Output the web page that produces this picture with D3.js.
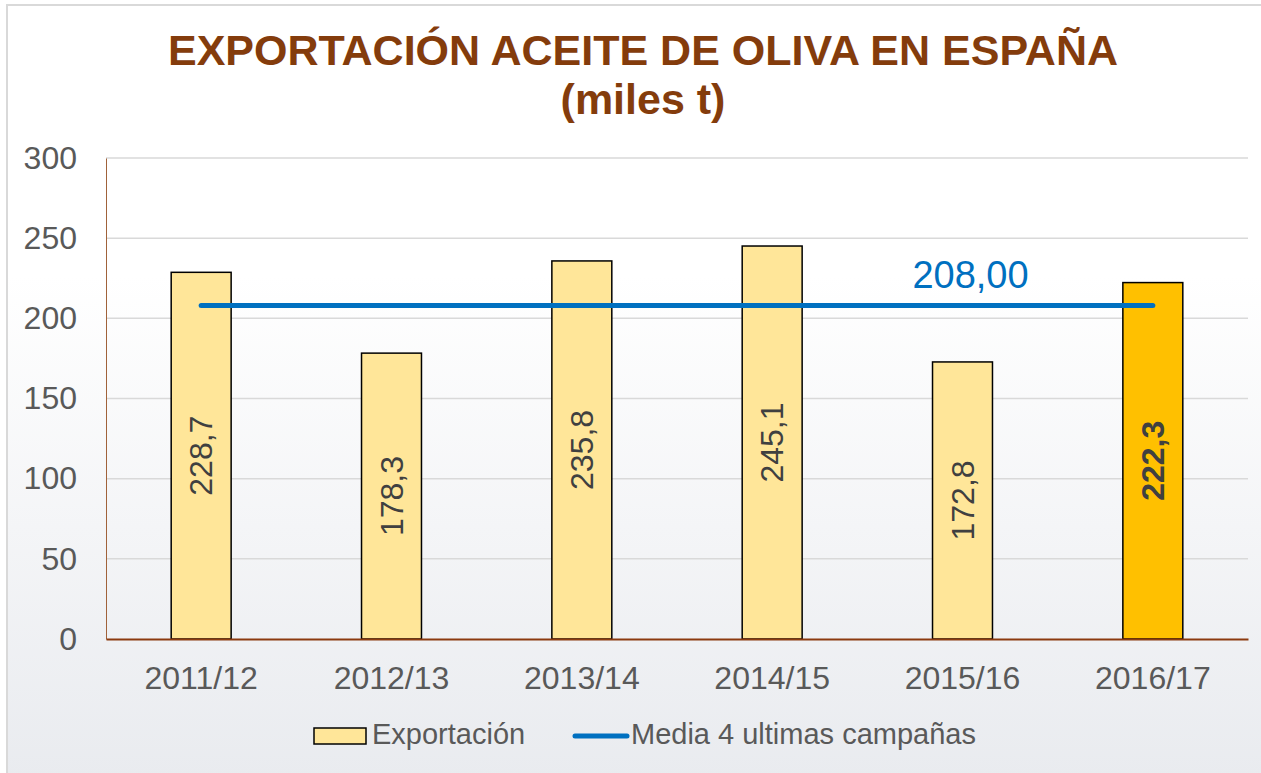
<!DOCTYPE html>
<html>
<head>
<meta charset="utf-8">
<script src="https://cdn.jsdelivr.net/npm/d3@7"></script>
<style>
  body { margin: 0; background: #fff; }
  svg { display: block; font-family: "Liberation Sans", Arial, sans-serif; }
</style>
</head>
<body>
<svg id="chart" width="1261" height="773"></svg>
<script>
// data
var campaigns = ["2011/12", "2012/13", "2013/14", "2014/15", "2015/16", "2016/17"];
var exportValues = [228.7, 178.3, 235.8, 245.1, 172.8, 222.3];
var meanValue = 208.0;
var yTicks = [0, 50, 100, 150, 200, 250, 300];
var titleLines = ["EXPORTACIÓN ACEITE DE OLIVA EN ESPAÑA", "(miles t)"];
var legendLabels = ["Exportación", "Media 4 ultimas campañas"];

var fmt = function (v, d) { return v.toFixed(d).replace(".", ","); };

var svg = d3.select("#chart");
var W = 1261, H = 773;
var margin = {left: 106, right: 13, top: 158, bottom: 134};
var innerW = W - margin.left - margin.right;
var innerH = H - margin.top - margin.bottom;

// background gradient
var defs = svg.append("defs");
var grad = defs.append("linearGradient").attr("id", "bg")
  .attr("x1", 0).attr("y1", 0).attr("x2", 0).attr("y2", 1);
grad.append("stop").attr("offset", "0%").attr("stop-color", "#ffffff");
grad.append("stop").attr("offset", "35%").attr("stop-color", "#ffffff");
grad.append("stop").attr("offset", "100%").attr("stop-color", "#e9ebef");

svg.append("rect").attr("x", 7).attr("y", 5).attr("width", W).attr("height", H)
  .attr("fill", "url(#bg)").attr("stroke", "#d9d9d9").attr("stroke-width", 2);

// title
svg.selectAll("text.title").data(titleLines).enter().append("text")
  .attr("class", "title")
  .attr("x", 643).attr("y", function (d, i) { return 65 + i * 49; })
  .attr("text-anchor", "middle")
  .attr("font-size", 43).attr("font-weight", "bold").attr("fill", "#843c0c")
  .text(function (d) { return d; });

var g = svg.append("g").attr("transform", "translate(" + margin.left + "," + margin.top + ")");

var x = d3.scaleBand().domain(campaigns).range([0, innerW])
  .paddingInner(0.685).paddingOuter(0.3425);
var y = d3.scaleLinear().domain([0, 300]).range([innerH, 0]);

// gridlines
g.selectAll("line.grid").data(yTicks.slice(1)).enter().append("line")
  .attr("class", "grid")
  .attr("x1", 0).attr("x2", innerW)
  .attr("y1", function (d) { return y(d); }).attr("y2", function (d) { return y(d); })
  .attr("stroke", "#d9d9d9").attr("stroke-width", 1.5);

// y axis
var yAxis = g.append("g").call(d3.axisLeft(y).tickValues(yTicks).tickSize(0).tickPadding(29));
yAxis.select(".domain").attr("stroke", "#a0623a").attr("stroke-width", 1);
yAxis.selectAll("text").attr("font-size", 32).attr("fill", "#595959")
  .attr("font-family", "Liberation Sans, Arial, sans-serif");

// bars
g.selectAll("rect.bar").data(exportValues).enter().append("rect")
  .attr("class", "bar")
  .attr("x", function (d, i) { return x(campaigns[i]); })
  .attr("width", x.bandwidth())
  .attr("y", function (d) { return y(d); })
  .attr("height", function (d) { return innerH - y(d); })
  .attr("fill", function (d, i) { return i === campaigns.length - 1 ? "#ffc000" : "#ffe699"; })
  .attr("stroke", "#000").attr("stroke-width", 1.5);

// bar labels
g.selectAll("text.lbl").data(exportValues).enter().append("text")
  .attr("class", "lbl")
  .attr("transform", function (d, i) {
    var cx = x(campaigns[i]) + x.bandwidth() / 2;
    var cy = (y(d) + innerH) / 2;
    return "translate(" + cx + "," + cy + ") rotate(-90)";
  })
  .attr("text-anchor", "middle").attr("dy", "0.35em")
  .attr("font-size", 32)
  .attr("font-weight", function (d, i) { return i === campaigns.length - 1 ? "bold" : "normal"; })
  .attr("fill", "#404040")
  .text(function (d) { return fmt(d, 1); });

// x axis
var xAxis = g.append("g").attr("transform", "translate(0," + innerH + ")")
  .call(d3.axisBottom(x).tickSize(0).tickPadding(27));
xAxis.select(".domain").attr("stroke", "#8b3a0f").attr("stroke-width", 2);
xAxis.selectAll("text").attr("font-size", 32).attr("fill", "#595959")
  .attr("font-family", "Liberation Sans, Arial, sans-serif");

// mean line
var first = campaigns[0], last = campaigns[campaigns.length - 1];
g.append("line")
  .attr("x1", x(first) + x.bandwidth() / 2).attr("x2", x(last) + x.bandwidth() / 2)
  .attr("y1", y(meanValue)).attr("y2", y(meanValue))
  .attr("stroke", "#0070c0").attr("stroke-width", 5).attr("stroke-linecap", "round");
g.append("text")
  .attr("x", x(campaigns[4]) + x.bandwidth() / 2 + 8).attr("y", y(meanValue) - 18)
  .attr("text-anchor", "middle")
  .attr("font-size", 38).attr("fill", "#0070c0")
  .text(fmt(meanValue, 2));

// legend
var lg = svg.append("g").attr("transform", "translate(0,736)");
lg.append("rect").attr("x", 314).attr("y", -8).attr("width", 52).attr("height", 16)
  .attr("fill", "#ffe699").attr("stroke", "#000").attr("stroke-width", 1.5);
lg.append("text").attr("x", 372).attr("y", 8).attr("font-size", 29).attr("fill", "#595959")
  .text(legendLabels[0]);
lg.append("line").attr("x1", 575).attr("x2", 627).attr("y1", 0).attr("y2", 0)
  .attr("stroke", "#0070c0").attr("stroke-width", 5).attr("stroke-linecap", "round");
lg.append("text").attr("x", 631).attr("y", 8).attr("font-size", 29).attr("fill", "#595959")
  .text(legendLabels[1]);
</script>
</body>
</html>
